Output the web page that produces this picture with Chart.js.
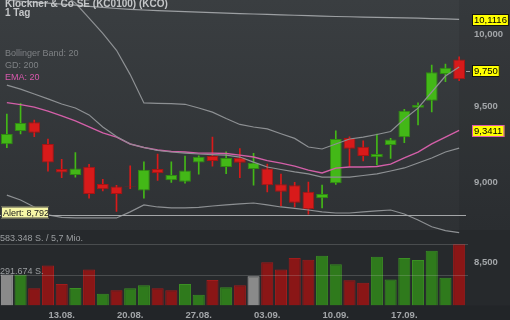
<!DOCTYPE html>
<html>
<head>
<meta charset="utf-8">
<style>
    html, body { margin: 0; padding: 0; background: #222528; }
    #chart { display: block; }
</style>
<script src="https://cdn.jsdelivr.net/npm/chart.js@4/dist/chart.umd.min.js"></script>
</head>
<body>
<canvas id="chart" width="510" height="320"></canvas>
<script>
// Handelstage (07.08. - 21.09.)
const dates = ['07.08.', '08.08.', '09.08.', '10.08.', '13.08.', '14.08.', '15.08.', '16.08.', '17.08.',
    '20.08.', '21.08.', '22.08.', '23.08.', '24.08.', '27.08.', '28.08.', '29.08.', '30.08.', '31.08.',
    '03.09.', '04.09.', '05.09.', '06.09.', '07.09.', '10.09.', '11.09.', '12.09.', '13.09.', '14.09.',
    '17.09.', '18.09.', '19.09.', '20.09.', '21.09.'];
const dateTicks = ['13.08.', '20.08.', '27.08.', '03.09.', '10.09.', '17.09.'];
const priceTicks = [8.5, 9, 9.5, 10];
const priceMin = 8.242;
const priceMax = 10.252;

// Kerzen
const opens = [9.248, 9.336, 9.395, 9.250, 9.086, 9.047, 9.100, 8.990, 8.974, 8.975,
    8.947, 9.086, 9.013, 9.004, 9.129, 9.171, 9.099, 9.160, 9.086, 9.090,
    8.987, 8.982, 8.940, 8.899, 8.994, 9.290, 9.232, 9.162, 9.243, 9.294,
    9.493, 9.540, 9.724, 9.826];
const highs = [9.450, 9.523, 9.410, 9.283, 9.149, 9.194, 9.117, 9.019, 8.980, 9.106,
    9.133, 9.184, 9.133, 9.171, 9.172, 9.296, 9.199, 9.219, 9.188, 9.118,
    9.053, 9.000, 9.002, 8.982, 9.338, 9.297, 9.271, 9.316, 9.287, 9.481,
    9.526, 9.787, 9.794, 9.845];
const lows = [9.225, 9.316, 9.298, 9.072, 9.030, 9.033, 8.898, 8.945, 8.815, 8.960,
    8.899, 9.013, 9.000, 8.994, 9.053, 9.105, 9.056, 9.030, 8.982, 8.939,
    8.850, 8.843, 8.797, 8.837, 8.987, 9.101, 9.138, 9.112, 9.155, 9.259,
    9.376, 9.465, 9.671, 9.678];
const closes = [9.316, 9.390, 9.325, 9.129, 9.064, 9.090, 8.925, 8.955, 8.925, 8.972,
    9.081, 9.058, 9.047, 9.077, 9.166, 9.138, 9.158, 9.127, 9.127, 8.982,
    8.940, 8.869, 8.829, 8.925, 9.283, 9.218, 9.171, 9.184, 9.280, 9.472,
    9.511, 9.736, 9.768, 9.687];
const volumes = [296000, 293000, 165000, 381000, 205000, 167000, 343000, 111000, 146000, 165000,
    193000, 165000, 146000, 205000, 102000, 243000, 174000, 193000, 280000, 412000,
    343000, 453000, 437000, 475000, 393000, 240000, 218000, 465000, 249000, 453000,
    434000, 522000, 265000, 583348];

// Indikatoren
const bbUpper = [10.42, 10.40, 10.38, 10.35, 10.30, 10.23, 10.12, 10.01, 9.89, 9.72,
    9.525, 9.522, 9.52, 9.516, 9.491, 9.463, 9.42, 9.38, 9.363, 9.35,
    9.318, 9.287, 9.23, 9.217, 9.25, 9.283, 9.296, 9.313, 9.333, 9.416,
    9.49, 9.60, 9.71, 9.773];
const bbMiddle = [9.647, 9.620, 9.586, 9.553, 9.518, 9.491, 9.444, 9.363, 9.300, 9.250,
    9.227, 9.207, 9.197, 9.190, 9.184, 9.180, 9.177, 9.164, 9.131, 9.099,
    9.083, 9.067, 9.054, 9.034, 9.034, 9.034, 9.044, 9.054, 9.073, 9.093,
    9.125, 9.158, 9.197, 9.223];
const bbLower = [8.918, 8.887, 8.843, 8.793, 8.777, 8.774, 8.774, 8.774, 8.774, 8.812,
    8.856, 8.843, 8.837, 8.837, 8.840, 8.849, 8.856, 8.862, 8.868, 8.856,
    8.843, 8.834, 8.824, 8.812, 8.805, 8.805, 8.812, 8.818, 8.824, 8.799,
    8.761, 8.719, 8.695, 8.683];
const ema20 = [9.527, 9.514, 9.497, 9.470, 9.437, 9.404, 9.364, 9.324, 9.295, 9.250,
    9.227, 9.210, 9.200, 9.197, 9.190, 9.190, 9.187, 9.177, 9.164, 9.141,
    9.124, 9.105, 9.079, 9.060, 9.092, 9.099, 9.099, 9.102, 9.118, 9.158,
    9.197, 9.250, 9.296, 9.3411];
const gd200 = [10.250, 10.243, 10.236, 10.229, 10.222, 10.215, 10.206, 10.198, 10.190, 10.184,
    10.179, 10.175, 10.171, 10.167, 10.163, 10.160, 10.157, 10.153, 10.150, 10.147,
    10.144, 10.141, 10.138, 10.135, 10.132, 10.130, 10.128, 10.126, 10.124, 10.122,
    10.120, 10.117, 10.114, 10.1116];

const lastPrice = 9.750;
const alertPrice = 8.792;
const volMax = 583348;

// Farben
const GREEN = '#43b817', GREEN_EDGE = '#2f8c10';
const RED = '#d81a1a', RED_EDGE = '#a81313';
const FONT = 'Liberation Sans';
const AXIS_COLOR = '#a3a6a9';

function fmt(v, d) {
    return v.toFixed(d).replace('.', ',');
}
function fmtInt(v) {
    return String(Math.round(v)).replace(/\B(?=(\d{3})+(?!\d))/g, '.');
}

const up = closes.map((c, i) => c >= opens[i]);
const volColor = closes.map((c, i) => {
    if (i === 0 || c === closes[i - 1]) return 'gray';
    return c > closes[i - 1] ? 'green' : 'red';
});

// Hintergrund der Panels
const backgroundPlugin = {
    id: 'panels',
    beforeDraw(chart) {
        const ctx = chart.ctx;
        const area = chart.chartArea;
        ctx.save();
        ctx.fillStyle = '#222528';
        ctx.fillRect(0, 0, chart.width, chart.height);
        const grad = ctx.createLinearGradient(0, 0, 0, 230);
        grad.addColorStop(0, '#3a3e41');
        grad.addColorStop(1, '#2e3134');
        ctx.fillStyle = grad;
        ctx.fillRect(0, 0, chart.width, 230);
        ctx.fillStyle = '#26292c';
        ctx.fillRect(0, 230, chart.width, area.bottom - 230);
        // rechter Rand hinter der letzten Kerze
        ctx.fillStyle = 'rgba(0,0,0,0.07)';
        ctx.fillRect(area.right - 7, 0, chart.width - area.right + 7, 230);
        ctx.restore();
    }
};

// Beschriftungen, Linien und Kurs-Boxen
const overlayPlugin = {
    id: 'overlay',
    afterDraw(chart) {
        const ctx = chart.ctx;
        const area = chart.chartArea;
        const y = chart.scales.y;
        const yv = chart.scales.yv;
        ctx.save();

        // Preisachse rechts
        ctx.font = 'bold 9.5px "' + FONT + '"';
        ctx.fillStyle = AXIS_COLOR;
        ctx.textBaseline = 'middle';
        priceTicks.forEach(function(v) {
            ctx.fillText(fmt(v, 3), area.right + 8, y.getPixelForValue(v));
        });

        // Volumen-Hilfslinien
        ctx.strokeStyle = 'rgba(200,200,200,0.22)';
        ctx.lineWidth = 1;
        [volMax, volMax / 2].forEach(function(v) {
            const py = Math.round(yv.getPixelForValue(v)) + 0.5;
            ctx.beginPath();
            ctx.moveTo(area.left, py);
            ctx.lineTo(area.right + 2, py);
            ctx.stroke();
        });
        ctx.font = '9px "' + FONT + '"';
        ctx.fillStyle = '#9b9ea1';
        ctx.textBaseline = 'alphabetic';
        ctx.fillText(fmtInt(volMax) + ' S. / 5,7 Mio.', 0, yv.getPixelForValue(volMax) - 3);
        ctx.fillText(fmtInt(volMax / 2) + ' S.', 0, yv.getPixelForValue(volMax / 2) - 1);

        // Alarm-Linie
        const ay = Math.round(y.getPixelForValue(alertPrice)) + 0.5;
        ctx.strokeStyle = '#a4a6a8';
        ctx.beginPath();
        ctx.moveTo(area.left, ay);
        ctx.lineTo(area.right, ay);
        ctx.stroke();
        ctx.fillStyle = '#f7f7a6';
        ctx.strokeStyle = '#444';
        ctx.fillRect(1, ay - 9, 48, 12);
        ctx.strokeRect(1.5, ay - 8.5, 47, 11);
        ctx.fillStyle = '#1a1a1a';
        ctx.fillText('Alert: ' + fmt(alertPrice, 3), 3, ay + 0.5);

        // Titel und Legende
        ctx.font = 'bold 10px "' + FONT + '"';
        ctx.fillStyle = '#c4c6c8';
        ctx.fillText('Klöckner & Co SE (KC0100) (KCO)', 5, 7);
        ctx.fillText('1 Tag', 5, 16);
        ctx.font = '9px "' + FONT + '"';
        ctx.fillStyle = '#7e8184';
        ctx.fillText('Bollinger Band: 20', 5, 56);
        ctx.fillText('GD: 200', 5, 67.5);
        ctx.fillStyle = '#d959ad';
        ctx.fillText('EMA: 20', 5, 79.5);

        // Kurs-Boxen an der Preisachse
        const boxes = [
            { v: gd200[gd200.length - 1], text: fmt(gd200[gd200.length - 1], 4), edge: '#111', dash: false },
            { v: lastPrice, text: fmt(lastPrice, 3), edge: '#111', dash: true },
            { v: ema20[ema20.length - 1], text: fmt(ema20[ema20.length - 1], 4), edge: '#d959ad', dash: false }
        ];
        ctx.font = '9.5px "' + FONT + '"';
        boxes.forEach(function(b) {
            const cy = Math.round(y.getPixelForValue(b.v)) + 1;
            const w = ctx.measureText(b.text).width + 4;
            ctx.fillStyle = '#ffff00';
            ctx.fillRect(472, cy - 6, w, 12);
            ctx.strokeStyle = b.edge;
            ctx.strokeRect(472.5, cy - 5.5, w - 1, 11);
            ctx.fillStyle = '#000';
            ctx.textBaseline = 'middle';
            ctx.fillText(b.text, 474, cy + 0.5);
            if (b.dash) {
                ctx.fillStyle = '#9a9da0';
                ctx.fillRect(466, cy, 4, 1);
            }
        });
        ctx.restore();
    }
};

const candleColors = up.map(u => u ? GREEN : RED);
const candleEdges = up.map(u => u ? GREEN_EDGE : RED_EDGE);
const volFill = volColor.map(c => c === 'green' ? '#2f7a1c' : c === 'red' ? '#8a1616' : '#8a8a8a');
const volEdge = volColor.map(c => c === 'green' ? '#3b8f24' : c === 'red' ? '#a01c1c' : '#a3a3a3');

function lineSet(data, color, width) {
    return {
        type: 'line',
        data: data,
        yAxisID: 'y',
        borderColor: color,
        borderWidth: width,
        pointRadius: 0,
        tension: 0,
        order: 0
    };
}

new Chart(document.getElementById('chart'), {
    type: 'bar',
    data: {
        labels: dates,
        datasets: [
            {
                // Volumen
                data: volumes,
                yAxisID: 'yv',
                grouped: false,
                categoryPercentage: 1,
                barPercentage: 0.88,
                backgroundColor: volFill,
                borderColor: volEdge,
                borderWidth: 1,
                order: 3
            },
            {
                // Dochte
                data: lows.map((l, i) => [l, highs[i]]),
                yAxisID: 'y',
                grouped: false,
                barThickness: 1,
                backgroundColor: candleColors,
                borderWidth: 0,
                order: 2
            },
            {
                // Kerzenkörper
                data: opens.map((o, i) => [o, closes[i]]),
                yAxisID: 'y',
                grouped: false,
                categoryPercentage: 1,
                barPercentage: 0.86,
                backgroundColor: candleColors,
                borderColor: candleEdges,
                borderWidth: 1,
                borderSkipped: false,
                order: 1
            },
            lineSet(gd200, '#9c9fa2', 1.2),
            lineSet(bbUpper, '#8d9093', 1.2),
            lineSet(bbMiddle, '#8d9093', 1.2),
            lineSet(bbLower, '#8d9093', 1.2),
            lineSet(ema20, '#d35fa8', 1.4)
        ]
    },
    options: {
        responsive: false,
        devicePixelRatio: 1,
        animation: false,
        // rechts Platz fuer die Preisachse
        layout: { padding: { left: 0, top: 0, bottom: 0, right: 44 } },
        plugins: {
            legend: { display: false },
            tooltip: { enabled: false }
        },
        scales: {
            x: {
                grid: { display: false, drawTicks: false },
                border: { display: false },
                ticks: {
                    autoSkip: false,
                    maxRotation: 0,
                    padding: 4,
                    color: AXIS_COLOR,
                    font: { family: FONT, size: 9.5, weight: 'bold' },
                    callback: function(val) {
                        const l = this.getLabelForValue(val);
                        return dateTicks.includes(l) ? l : '';
                    }
                },
                afterFit: function(s) {
                    s.height = 14.5;
                    s.paddingLeft = 0;
                    s.paddingRight = 0;
                }
            },
            y: {
                type: 'logarithmic',
                display: false,
                bounds: 'data',
                min: priceMin,
                max: priceMax,
                // Grenzen nicht auf Ticks runden lassen
                afterBuildTicks: function(s) {
                    s.min = priceMin;
                    s.max = priceMax;
                }
            },
            yv: {
                type: 'linear',
                display: false,
                min: 0,
                max: 2912000
            }
        }
    },
    plugins: [backgroundPlugin, overlayPlugin]
});
</script>
</body>
</html>
